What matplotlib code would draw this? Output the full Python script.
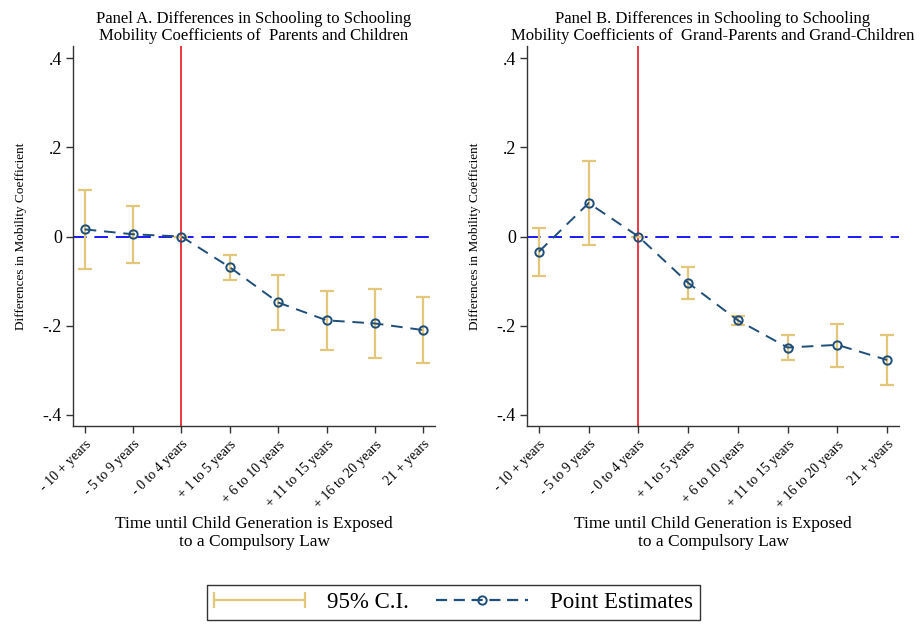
import matplotlib
matplotlib.use("Agg")
import matplotlib.pyplot as plt
from matplotlib.lines import Line2D
from matplotlib.legend_handler import HandlerLine2D

plt.rcParams["font.family"] = ["Liberation Serif", "DejaVu Serif"]

# ── Data ──────────────────────────────────────────────────────
categories = ["- 10 + years", "- 5 to 9 years", "- 0 to 4 years", "+ 1 to 5 years",
              "+ 6 to 10 years", "+ 11 to 15 years", "+ 16 to 20 years", "21 + years"]

est_a = [0.016, 0.005, 0.0, -0.069, -0.148, -0.188, -0.195, -0.210]
lo_a  = [-0.072, -0.060, 0.0, -0.097, -0.210, -0.254, -0.273, -0.284]
hi_a  = [0.104, 0.069, 0.0, -0.042, -0.087, -0.123, -0.118, -0.136]

est_b = [-0.034, 0.075, 0.0, -0.104, -0.188, -0.249, -0.243, -0.277]
lo_b  = [-0.089, -0.020, 0.0, -0.141, -0.199, -0.278, -0.293, -0.334]
hi_b  = [0.020, 0.169, 0.0, -0.069, -0.178, -0.221, -0.196, -0.220]

titles = ["Panel A. Differences in Schooling to Schooling\nMobility Coefficients of  Parents and Children",
          "Panel B. Differences in Schooling to Schooling\nMobility Coefficients of  Grand-Parents and Grand-Children"]

yticks = [0.4, 0.2, 0.0, -0.2, -0.4]
ytick_labels = [".4", ".2", "0", "-.2", "-.4"]

CI_COLOR = "#e2c77a"
EST_COLOR = "#1f4e79"

fig = plt.figure(figsize=(9.21, 6.26), dpi=100)
ax_a = fig.add_axes([0.0793, 0.3195, 0.393, 0.6075])
ax_b = fig.add_axes([0.5722, 0.3195, 0.404, 0.6075])

xs = list(range(1, len(categories) + 1))

for ax, est, lo, hi, title in [(ax_a, est_a, lo_a, hi_a, titles[0]),
                               (ax_b, est_b, lo_b, hi_b, titles[1])]:
    yerr = [[e - l for e, l in zip(est, lo)], [h - e for e, h in zip(est, hi)]]
    ax.errorbar(xs, est, yerr=yerr, fmt="none", ecolor=CI_COLOR,
                elinewidth=1.6, capsize=5, capthick=1.6, zorder=2)
    ax.axhline(0, color="#1a1aff", lw=1.4, ls=(0, (7, 4)), zorder=1)
    ax.axvline(3, color="#f0383f", lw=1.4, zorder=1)
    ax.plot(xs, est, color=EST_COLOR, lw=1.4, ls=(0, (6, 4)),
            marker="o", ms=6, mfc="none", mec=EST_COLOR, mew=1.4, zorder=3)

    ax.set_xlim(0.76, 8.24)
    ax.set_ylim(-0.425, 0.428)
    ax.set_yticks(yticks)
    ax.set_yticklabels(ytick_labels, fontsize=13)
    ax.set_xticks(xs)
    ax.set_xticklabels(categories, rotation=45, ha="right",
                       rotation_mode="anchor", fontsize=10)
    ax.tick_params(axis="both", direction="out", length=5, width=1, color="#333333")
    ax.tick_params(axis="y", pad=3)
    for s in ["top", "right"]:
        ax.spines[s].set_visible(False)
    for s in ["left", "bottom"]:
        ax.spines[s].set_linewidth(1.0)
        ax.spines[s].set_color("#333333")

    ax.set_ylabel("Differences in Mobility Coefficient", fontsize=9.5, labelpad=11)
    ax.set_xlabel("Time until Child Generation is Exposed\nto a Compulsory Law",
                  fontsize=12.5, labelpad=4, linespacing=1.15)
    ax.set_title(title, fontsize=12, pad=4, linespacing=1.1)

# Legend
ci_handle = Line2D([], [], color=CI_COLOR, lw=1.6, marker="|", ms=11, mew=1.6)
est_handle = Line2D([], [], color=EST_COLOR, lw=1.6, ls=(0, (5, 3)),
                    marker="o", ms=6, mfc="none", mec=EST_COLOR, mew=1.4)
leg = fig.legend([ci_handle, est_handle], ["95% C.I.", "Point Estimates"],
                 loc="center", bbox_to_anchor=(0.492, 0.038), ncol=2,
                 fontsize=16.5, frameon=True, fancybox=False, edgecolor="black",
                 handlelength=4.0, handletextpad=0.95, columnspacing=1.2,
                 borderpad=0.3, borderaxespad=0.4,
                 handler_map={ci_handle: HandlerLine2D(numpoints=2, marker_pad=0.0),
                              est_handle: HandlerLine2D(numpoints=1)})
leg.get_frame().set_linewidth(1.0)

fig.savefig("out.png", dpi=100)
